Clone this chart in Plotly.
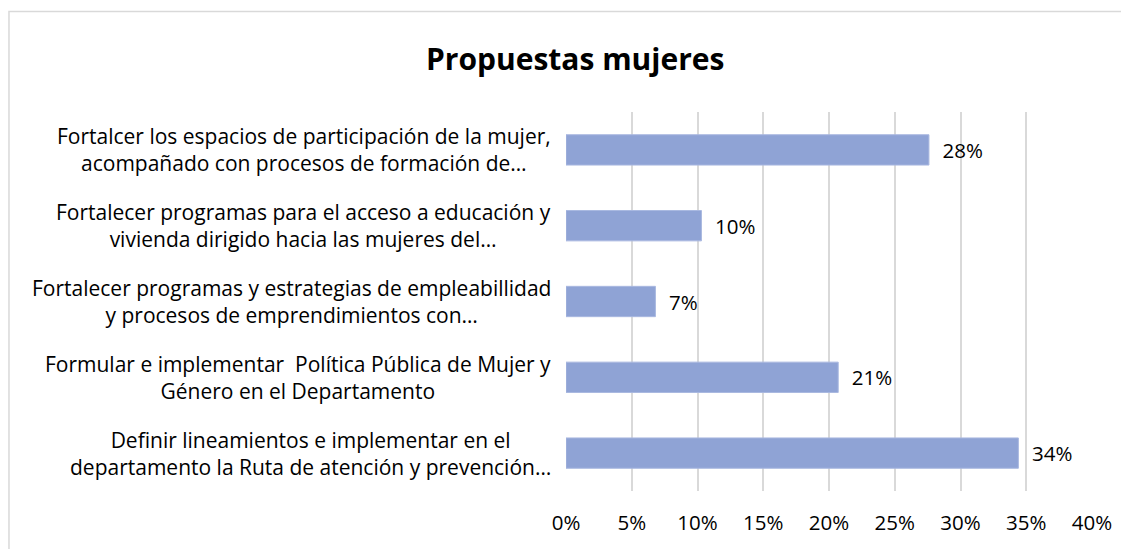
import plotly.graph_objects as go

# categories listed top to bottom, as in the picture
categorias = [
    "Fortalcer los espacios de participación de la mujer,<br>acompañado con procesos de formación de…",
    "Fortalecer programas para el acceso a educación y<br>vivienda dirigido hacia las mujeres del…",
    "Fortalecer programas y estrategias de empleabillidad<br>y procesos de emprendimientos con…",
    "Formular e implementar  Política Pública de Mujer y<br>Género en el Departamento",
    "Definir lineamientos e implementar en el<br>departamento la Ruta de atención y prevención…",
]
valores = [0.276, 0.103, 0.068, 0.207, 0.344]
etiquetas = ["28%", "10%", "7%", "21%", "34%"]
ticks = [0, 0.05, 0.10, 0.15, 0.20, 0.25, 0.30, 0.35, 0.40]
tick_text = ["0%", "5%", "10%", "15%", "20%", "25%", "30%", "35%", "40%"]

FONT = "Open Sans"
ids = list(range(len(categorias)))

fig = go.Figure(go.Bar(
    x=valores, y=ids, orientation="h",
    marker=dict(color="#8fa3d5", line=dict(color="#a9b8e0", width=1)),
    text=["  " + t for t in etiquetas], textposition="outside",
    textfont=dict(family=FONT, size=20.5, color="#000000"),
    cliponaxis=False, hoverinfo="skip",
))

# category labels as centred multi-line annotations
for i, c in zip(ids, categorias):
    fig.add_annotation(x=-0.0247, xref="paper", y=i, yref="y", text=c,
                       showarrow=False, xanchor="right", align="center",
                       font=dict(family=FONT, size=21, color="#000000"))

# chart frame (runs off the right and bottom edges)
fig.add_shape(type="rect", xref="paper", yref="paper",
              x0=-1.059, x1=1.09, y0=-0.2, y1=1.265,
              line=dict(color="#d9d9d9", width=1.5), fillcolor="rgba(0,0,0,0)")

fig.update_layout(
    width=1121, height=541,
    margin=dict(l=558, r=37, t=104, b=58),
    paper_bgcolor="white", plot_bgcolor="white",
    title=dict(text="<b>Propuestas mujeres</b>", x=0.506, xanchor="center",
               y=0.905, yanchor="middle",
               font=dict(family=FONT, size=30, color="#000000")),
    bargap=0.6, showlegend=False,
    xaxis=dict(range=[0, 0.40], tickvals=ticks, ticktext=tick_text,
               showgrid=True, gridcolor="#d9d9d9", gridwidth=1.5,
               zeroline=False, showline=False, ticks="",
               tickfont=dict(family=FONT, size=20.5, color="#000000"),
               ticklabelstandoff=17, fixedrange=True),
    yaxis=dict(tickvals=ids, showticklabels=False, autorange="reversed",
               showgrid=False, zeroline=False, showline=False, fixedrange=True),
)

fig.write_html("out.html")
